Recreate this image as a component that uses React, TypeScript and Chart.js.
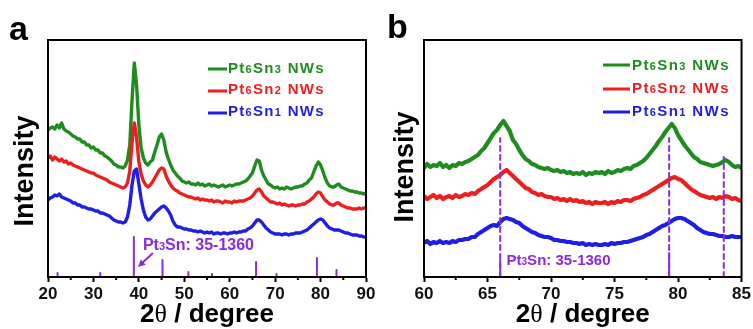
import React, { useEffect, useRef } from 'react';
import { Chart, registerables } from 'chart.js';
Chart.register(...registerables);

const FONT = '"Liberation Sans", Arial, Helvetica, sans-serif';
const SERIF = '"Liberation Serif", "Times New Roman", serif';
const GREEN = '#1e8c1e';
const RED = '#ee1e1e';
const BLUE = '#1e1ee6';
const PURPLE = '#8a2be2';

const SERIES_NAMES = ['Pt6Sn3 NWs', 'Pt6Sn2 NWs', 'Pt6Sn1 NWs'];
const REF_LABEL = 'Pt3Sn: 35-1360';

// ---------- Panel a (20-90 deg) ----------
const A_X = [20,20.5,21,21.5,22,22.5,23,23.5,24,24.5,25,25.5,26,26.5,27,27.5,28,28.5,29,29.5,30,30.5,31,31.5,32,32.5,33,33.5,34,34.5,35,35.5,36,36.5,37,37.5,38,38.5,39,39.5,40,40.5,41,41.5,42,42.5,43,43.5,44,44.5,45,45.5,46,46.5,47,47.5,48,48.5,49,49.5,50,50.5,51,51.5,52,52.5,53,53.5,54,54.5,55,55.5,56,56.5,57,57.5,58,58.5,59,59.5,60,60.5,61,61.5,62,62.5,63,63.5,64,64.5,65,65.5,66,66.5,67,67.5,68,68.5,69,69.5,70,70.5,71,71.5,72,72.5,73,73.5,74,74.5,75,75.5,76,76.5,77,77.5,78,78.5,79,79.5,80,80.5,81,81.5,82,82.5,83,83.5,84,84.5,85,85.5,86,86.5,87,87.5,88,88.5,89,89.5,90];
const A_GREEN = [
  147,149,150,148,152,149,154,148,146,145,
  143,141,140,138,138,135,135,132,132,129,
  130,127,127,124,124,121,120,118,116,113,
  112,110,110,109,111,117,132,177,214,192,
  152,129,119,114,112,115,117,125,132,140,
  143,137,125,118,112,107,104,101,99,96,
  95,94,95,93,93,92,94,92,93,91,
  92,93,91,92,91,90,91,92,90,91,
  92,91,92,93,93,94,95,96,98,101,
  104,111,117,116,107,101,97,93,92,90,
  89,90,88,89,88,90,89,88,89,90,
  90,91,91,93,94,97,99,105,111,115,
  112,106,99,94,91,90,90,92,93,90,
  89,88,87,86,86,85,85,84,84,83,
  84];
const A_RED = [
  119,121,117,120,118,116,118,115,116,113,
  114,112,111,110,109,108,107,106,105,104,
  104,102,101,100,99,98,97,95,94,93,
  92,91,90,89,90,94,106,135,154,140,
  115,103,96,92,90,92,95,99,103,107,
  109,108,101,96,92,89,87,86,84,83,
  82,81,80,80,79,78,79,77,78,77,
  77,76,77,75,76,76,75,74,76,75,
  75,74,76,75,76,76,76,77,78,79,
  81,84,87,88,85,81,79,77,75,75,
  74,73,74,72,73,72,71,72,72,71,
  72,72,73,73,75,76,78,80,83,85,
  84,80,77,75,73,72,72,74,74,72,
  71,70,69,69,68,68,68,69,68,69,
  69];
const A_BLUE = [
  77,79,80,82,81,83,80,79,78,77,
  76,74,74,72,72,70,70,69,68,68,
  67,66,66,64,64,63,62,61,59,57,
  56,55,55,54,55,60,72,92,106,108,
  93,78,67,60,57,58,61,64,66,68,
  70,71,69,66,62,56,52,50,50,49,
  48,48,47,47,46,46,45,46,45,44,
  45,44,45,43,44,44,43,44,44,43,
  44,44,45,44,45,45,46,46,48,49,
  51,54,57,57,55,52,49,47,45,44,
  43,43,43,42,43,43,42,43,43,44,
  44,44,45,46,47,49,51,53,55,57,
  58,57,54,51,49,48,47,47,47,46,
  45,44,44,43,42,42,42,41,41,40,
  40];
const A_STICK_POS = [22.1, 31.5, 38.9, 45.2, 50.9, 56.1, 65.8, 70.3, 79.2, 83.5];
const A_STICK_H = [4, 4, 40, 17, 5, 3, 15, 3, 19, 7];
const A_TICKS = [20, 30, 40, 50, 60, 70, 80, 90];
const A_MINOR = [25, 35, 45, 55, 65, 75, 85];

// ---------- Panel b (60-85 deg) ----------
const B_X = [60,60.25,60.5,60.75,61,61.25,61.5,61.75,62,62.25,62.5,62.75,63,63.25,63.5,63.75,64,64.25,64.5,64.75,65,65.25,65.5,65.75,66,66.25,66.5,66.75,67,67.25,67.5,67.75,68,68.25,68.5,68.75,69,69.25,69.5,69.75,70,70.25,70.5,70.75,71,71.25,71.5,71.75,72,72.25,72.5,72.75,73,73.25,73.5,73.75,74,74.25,74.5,74.75,75,75.25,75.5,75.75,76,76.25,76.5,76.75,77,77.25,77.5,77.75,78,78.25,78.5,78.75,79,79.25,79.5,79.75,80,80.25,80.5,80.75,81,81.25,81.5,81.75,82,82.25,82.5,82.75,83,83.25,83.5,83.75,84,84.25,84.5,84.75,85];
const B_GREEN = [
  109,113,110,112, 111,114,110,112, 109,112,111,114, 113,115,116,118, 120,122,126,129,
  134,139,144,147, 152,156,151,146, 137,133,127,122, 118,116,113,112, 110,109,108,109,
  107,106,107,105, 106,104,105,103, 104,103,105,102, 104,103,105,104, 105,103,106,104,
  105,107,106,108, 109,108,111,112, 114,116,119,123, 127,131,136,140, 145,149,153,149,
  142,137,132,128, 124,120,118,115, 114,113,112,111, 112,113,115,117, 115,112,110,111,
  109];
const B_RED = [
  81,78,80,82, 79,81,78,80, 81,79,82,80, 81,83,82,84, 83,86,88,90,
  92,95,98,100, 102,105,107,104, 101,98,95,92, 89,88,85,84, 82,83,81,80,
  80,78,79,77, 78,76,78,76, 77,75,76,74, 75,73,75,74, 74,75,73,75,
  74,76,75,77, 77,76,78,79, 80,82,83,85, 87,89,91,93, 95,97,99,100,
  98,97,94,91, 88,86,84,82, 81,80,79,80, 78,80,79,81, 80,78,79,77,
  76];
const B_BLUE = [
  34,36,33,35, 34,36,34,35, 34,36,35,37, 37,38,38,40, 40,43,45,47,
  49,51,52,51, 55,58,59,58, 57,55,54,51, 49,47,45,44, 42,41,40,40,
  39,37,37,36, 36,35,35,34, 34,33,34,32, 33,32,33,32, 32,33,32,34,
  33,34,34,35, 35,36,37,38, 39,40,42,43, 45,47,49,51, 52,54,56,58,
  59,59,58,56, 54,52,49,47, 45,44,43,43, 42,41,41,40, 40,41,40,40,
  40];
const B_STICK_POS = [66.0, 79.3, 83.6];
const B_STICK_H = [17, 24, 0];
const B_DASH_TOP = [139, 139, 120];
const B_TICKS = [60, 65, 70, 75, 80, 85];
const B_MINOR = [62.5, 67.5, 72.5, 77.5, 82.5];

const Y_MAX = 237;

function drawRich(ctx: CanvasRenderingContext2D, text: string, x: number, y: number, size: number, small: number, color: string, spacing: number) {
  ctx.fillStyle = color;
  ctx.textAlign = 'left';
  ctx.textBaseline = 'alphabetic';
  let cx = x;
  for (let i = 0; i < text.length; i++) {
    const ch = text[i];
    const isSmall = /\d/.test(ch) && i > 0 && /[A-Za-z]/.test(text[i - 1]);
    ctx.font = `bold ${isSmall ? small : size}px ${FONT}`;
    ctx.fillText(ch, cx, y);
    cx += ctx.measureText(ch).width + spacing;
  }
}

type Cfg = {
  width: number; padLeft: number; padRight: number;
  xMin: number; xMax: number; ticks: number[]; minor: number[];
  xs: number[]; green: number[]; red: number[]; blue: number[]; lineW: number;
  stickPos: number[]; stickH: number[]; dashTop?: number[];
  letter: string; letterX: number; letterY: number;
  yTitleX: number; yTitleY: number;
  legLine: [number, number]; legTextX: number; legBase: number[]; legLineY: number[];
  legSize: number; legSpacing: number;
  refX: number; refY: number; refSize: number; refSmall: number;
  arrow?: [number, number, number, number];
};

function Panel({ cfg, left }: { cfg: Cfg; left: number }) {
  const ref = useRef<HTMLCanvasElement>(null);
  useEffect(() => {
    const canvas = ref.current!;
    const mk = (ys: number[]) => cfg.xs.map((x, i) => ({ x, y: ys[i] }));
    const sticks: any[] = [];
    cfg.stickPos.forEach((p, i) => {
      if (cfg.stickH[i] > 0) {
        sticks.push({ x: p, y: 0 }, { x: p, y: cfg.stickH[i] }, { x: p, y: null });
      }
    });
    const datasets: any[] = [
      { label: SERIES_NAMES[0], data: mk(cfg.green), borderColor: GREEN, borderWidth: cfg.lineW, pointRadius: 0, order: 3 },
      { label: SERIES_NAMES[1], data: mk(cfg.red), borderColor: RED, borderWidth: cfg.lineW, pointRadius: 0, order: 2 },
      { label: SERIES_NAMES[2], data: mk(cfg.blue), borderColor: BLUE, borderWidth: cfg.lineW, pointRadius: 0, order: 1 },
      { label: 'sticks', data: sticks, borderColor: PURPLE, borderWidth: 2, pointRadius: 0, spanGaps: false, order: 0 },
    ];
    if (cfg.dashTop) {
      const dash: any[] = [];
      cfg.stickPos.forEach((p, i) => dash.push({ x: p, y: 0 }, { x: p, y: cfg.dashTop![i] }, { x: p, y: null }));
      datasets.push({ label: 'dash', data: dash, borderColor: PURPLE, borderWidth: 2, borderDash: [5, 4], pointRadius: 0, spanGaps: false, order: -1 });
    }

    const decor = {
      id: 'decor',
      afterDatasetsDraw(chart: any) {
        const ctx: CanvasRenderingContext2D = chart.ctx;
        const { left: l, right: r, top: t, bottom: b } = chart.chartArea;
        const xs = chart.scales.x;
        const ys = chart.scales.y;
        ctx.save();
        ctx.strokeStyle = '#000';
        ctx.lineWidth = 2;
        ctx.strokeRect(l, t, r - l, b - t);
        cfg.minor.forEach((v) => {
          const px = xs.getPixelForValue(v);
          ctx.beginPath();
          ctx.moveTo(px, b);
          ctx.lineTo(px, b + 3);
          ctx.stroke();
        });
        drawRich(ctx, REF_LABEL, xs.getPixelForValue(cfg.refX), ys.getPixelForValue(cfg.refY), cfg.refSize, cfg.refSmall, PURPLE, 0);
        if (cfg.arrow) {
          const [x0, y0, x1, y1] = cfg.arrow;
          const ax = xs.getPixelForValue(x0), ay = ys.getPixelForValue(y0);
          const bx = xs.getPixelForValue(x1), by = ys.getPixelForValue(y1);
          ctx.strokeStyle = PURPLE;
          ctx.fillStyle = PURPLE;
          ctx.lineWidth = 2;
          const ang = Math.atan2(by - ay, bx - ax);
          ctx.beginPath();
          ctx.moveTo(ax, ay);
          ctx.lineTo(bx - 5 * Math.cos(ang), by - 5 * Math.sin(ang));
          ctx.stroke();
          ctx.beginPath();
          ctx.moveTo(bx, by);
          ctx.lineTo(bx - 8 * Math.cos(ang - 0.45), by - 8 * Math.sin(ang - 0.45));
          ctx.lineTo(bx - 8 * Math.cos(ang + 0.45), by - 8 * Math.sin(ang + 0.45));
          ctx.closePath();
          ctx.fill();
        }
        ctx.restore();
      },
      afterDraw(chart: any) {
        const ctx: CanvasRenderingContext2D = chart.ctx;
        const { left: l, right: r } = chart.chartArea;
        ctx.save();
        ctx.fillStyle = '#000';
        ctx.font = `bold 34px ${FONT}`;
        ctx.textAlign = 'left';
        ctx.textBaseline = 'alphabetic';
        ctx.fillText(cfg.letter, cfg.letterX, cfg.letterY);
        ctx.save();
        ctx.translate(cfg.yTitleX, cfg.yTitleY);
        ctx.rotate(-Math.PI / 2);
        ctx.font = `bold 27px ${FONT}`;
        ctx.textAlign = 'center';
        ctx.textBaseline = 'middle';
        ctx.fillText('Intensity', 0, 0);
        ctx.restore();
        const parts: [string, string][] = [
          ['2', `bold 26px ${FONT}`],
          ['θ', `26px ${SERIF}`],
          [' / degree', `bold 26px ${FONT}`],
        ];
        let total = 0;
        parts.forEach(([s, f]) => { ctx.font = f; total += ctx.measureText(s).width; });
        let cx = (l + r) / 2 - total / 2;
        ctx.textAlign = 'left';
        ctx.textBaseline = 'alphabetic';
        parts.forEach(([s, f]) => { ctx.font = f; ctx.fillText(s, cx, 322); cx += ctx.measureText(s).width; });
        const cols = [GREEN, RED, BLUE];
        SERIES_NAMES.forEach((name, i) => {
          ctx.strokeStyle = cols[i];
          ctx.lineWidth = 3;
          ctx.beginPath();
          ctx.moveTo(cfg.legLine[0], cfg.legLineY[i]);
          ctx.lineTo(cfg.legLine[1], cfg.legLineY[i]);
          ctx.stroke();
          drawRich(ctx, name, cfg.legTextX, cfg.legBase[i], cfg.legSize, 11, cols[i], cfg.legSpacing);
        });
        ctx.restore();
      },
    };

    const chart = new Chart(canvas, {
      type: 'line',
      data: { datasets },
      options: {
        animation: false,
        responsive: false,
        devicePixelRatio: 1,
        layout: { padding: { left: cfg.padLeft, right: cfg.padRight, top: 40, bottom: 0 } },
        plugins: { legend: { display: false }, tooltip: { enabled: false } },
        elements: { line: { tension: 0, borderJoinStyle: 'round', borderCapStyle: 'round' } },
        scales: {
          x: {
            type: 'linear',
            min: cfg.xMin,
            max: cfg.xMax,
            afterFit: (s: any) => { s.height = 52; },
            afterBuildTicks: (s: any) => { s.ticks = cfg.ticks.map((v) => ({ value: v })); },
            ticks: {
              autoSkip: false,
              maxRotation: 0,
              padding: 2,
              color: '#111',
              font: { family: FONT, size: 17, weight: 'bold' },
              callback: (v: any) => String(v),
            },
            grid: { display: true, drawOnChartArea: false, drawTicks: true, tickLength: 5, tickWidth: 2, tickColor: '#000' },
            border: { display: true, color: '#000', width: 2 },
          },
          y: { type: 'linear', min: 0, max: Y_MAX, display: false },
        },
      },
      plugins: [decor],
    } as any);
    return () => chart.destroy();
  }, [cfg]);
  return (
    <canvas ref={ref} width={cfg.width} height={329}
      style={{ position: 'absolute', left, top: 0, width: cfg.width, height: 329 }} />
  );
}

const CFG_A: Cfg = {
  width: 380, padLeft: 48, padRight: 14,
  xMin: 20, xMax: 90, ticks: A_TICKS, minor: A_MINOR,
  xs: A_X, green: A_GREEN, red: A_RED, blue: A_BLUE, lineW: 3.4,
  stickPos: A_STICK_POS, stickH: A_STICK_H,
  letter: 'a', letterX: 9, letterY: 40,
  yTitleX: 26, yTitleY: 171,
  legLine: [208, 227], legTextX: 228, legBase: [73, 94, 116], legLineY: [69, 91, 113],
  legSize: 15, legSpacing: 1.3,
  refX: 40.9, refY: 27, refSize: 16, refSmall: 11,
  arrow: [43.1, 24, 39.8, 10],
};

const CFG_B: Cfg = {
  width: 373, padLeft: 44, padRight: 10,
  xMin: 60, xMax: 85, ticks: B_TICKS, minor: B_MINOR,
  xs: B_X, green: B_GREEN, red: B_RED, blue: B_BLUE, lineW: 4.2,
  stickPos: B_STICK_POS, stickH: B_STICK_H, dashTop: B_DASH_TOP,
  letter: 'b', letterX: 7, letterY: 38,
  yTitleX: 26, yTitleY: 167,
  legLine: [223, 250], legTextX: 252, legBase: [70, 93, 116], legLineY: [65, 89, 112],
  legSize: 15, legSpacing: 1.4,
  refX: 66.5, refY: 12, refSize: 15, refSmall: 10,
};

export default function App() {
  return (
    <div style={{ position: 'absolute', left: 0, top: 0, width: 753, height: 329, background: '#fff', overflow: 'hidden' }}>
      <Panel cfg={CFG_A} left={0} />
      <Panel cfg={CFG_B} left={380} />
    </div>
  );
}
